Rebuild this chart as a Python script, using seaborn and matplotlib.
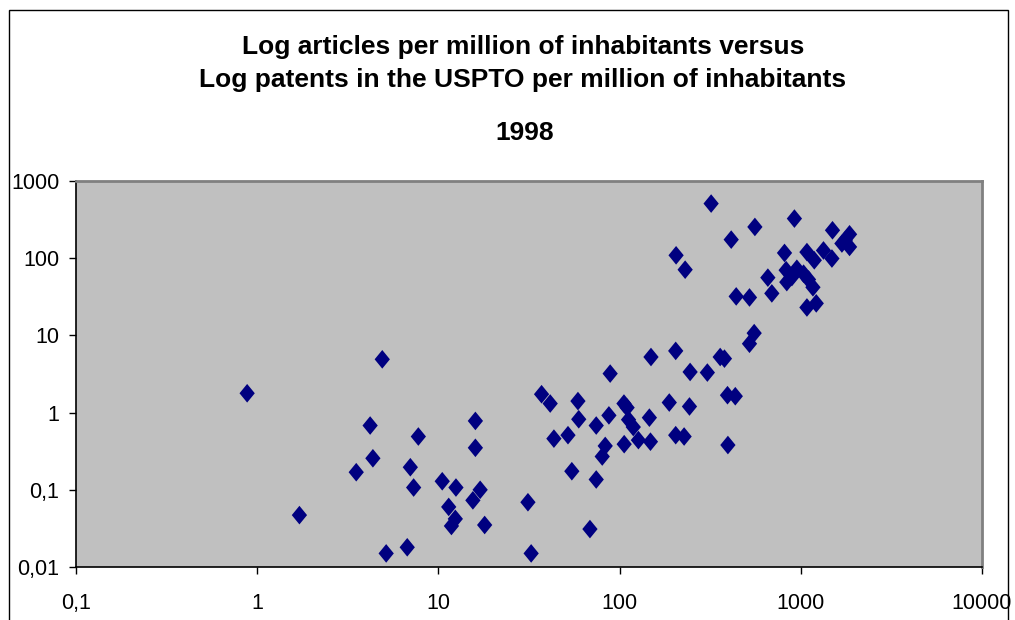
import numpy as np
import pandas as pd
import matplotlib
matplotlib.use('Agg')
import matplotlib.pyplot as plt
import matplotlib.ticker as mticker
from matplotlib.patches import Rectangle
import seaborn as sns

# Articles and patents per million inhabitants, 1998
articles = [0.88, 1.71, 3.52, 4.2, 4.35, 4.9, 5.15, 6.73, 7.0, 7.3, 7.75,
            10.5, 12.5, 11.4, 12.4, 11.8, 16.0, 16.0, 17.0, 15.5, 18.0,
            31.2, 32.5, 37.1, 41.4, 43.4, 51.9, 58.9, 59.5, 54.5, 68.6,
            74.3, 74.3, 88.7, 87.3, 83.3, 80.2, 105.7, 110, 112, 119, 106,
            127, 146, 148, 149, 188, 204, 204, 205, 320, 230, 413, 558, 922,
            440, 521, 658, 692, 813, 830, 837, 951, 1081, 1187, 1036, 1103,
            1167, 1081, 1217, 1334, 1485, 1496, 1686, 1858, 1858, 1758, 553,
            521, 359, 379, 245, 305, 243, 394, 435, 227, 396, 893]
patents = [1.78, 0.047, 0.169, 0.68, 0.256, 4.9, 0.015, 0.018, 0.196, 0.107, 0.49,
           0.129, 0.107, 0.060, 0.042, 0.034, 0.78, 0.35, 0.10, 0.073, 0.035,
           0.069, 0.015, 1.73, 1.31, 0.46, 0.51, 1.41, 0.82, 0.174, 0.031,
           0.68, 0.136, 3.2, 0.92, 0.37, 0.27, 1.31, 1.16, 0.81, 0.65, 0.39,
           0.44, 0.86, 0.42, 5.25, 1.35, 6.3, 0.51, 109, 510, 71, 174, 254, 326,
           32, 31, 56, 35, 117, 70, 49, 73, 120, 94, 63, 53,
           42, 23, 26, 126, 99, 230, 155, 204, 140, 171, 10.7,
           7.8, 5.25, 5.0, 3.36, 3.3, 1.2, 1.68, 1.63, 0.49, 0.38, 57]

x_ticks = [0.1, 1, 10, 100, 1000, 10000]
x_labels = ['0,1', '1', '10', '100', '1000', '10000']
y_ticks = [0.01, 0.1, 1, 10, 100, 1000]
y_labels = ['0,01', '0,1', '1', '10', '100', '1000']

df = pd.DataFrame({'articles': articles, 'patents': patents})

sns.set_theme(style='white')
plt.rcParams['font.family'] = ['Liberation Sans', 'DejaVu Sans']

fig = plt.figure(figsize=(10.15, 6.2), dpi=100)
ax = fig.add_axes([76 / 1015, 1 - 567 / 620, (982 - 76) / 1015, (567 - 181) / 620])
ax.set_facecolor('#C0C0C0')

diamond = [(0, 1), (0.82, 0), (0, -1), (-0.82, 0), (0, 1)]
sns.scatterplot(data=df, x='articles', y='patents', ax=ax, marker=diamond,
                s=180, color='#000080', edgecolor='none', linewidth=0,
                legend=False, zorder=3)

ax.set_xscale('log')
ax.set_yscale('log')
ax.set_xlim(0.1, 10000)
ax.set_ylim(0.01, 1000)
ax.xaxis.set_major_locator(mticker.FixedLocator(x_ticks))
ax.xaxis.set_major_formatter(mticker.FixedFormatter(x_labels))
ax.yaxis.set_major_locator(mticker.FixedLocator(y_ticks))
ax.yaxis.set_major_formatter(mticker.FixedFormatter(y_labels))
ax.xaxis.set_minor_locator(mticker.NullLocator())
ax.yaxis.set_minor_locator(mticker.NullLocator())
ax.tick_params(axis='both', which='major', direction='out', length=5, width=1,
               color='black', labelsize=15.5, labelcolor='black',
               bottom=True, left=True)
ax.tick_params(axis='x', pad=14)
ax.tick_params(axis='y', pad=7)
ax.set_xlabel('')
ax.set_ylabel('')

for side in ['top', 'right']:
    ax.spines[side].set_color('#808080')
    ax.spines[side].set_linewidth(2)
for side in ['left', 'bottom']:
    ax.spines[side].set_color('black')
    ax.spines[side].set_linewidth(1.2)

title_kw = dict(ha='center', va='center', fontsize=19, fontweight='bold', color='black')
fig.text(523 / 1015, 1 - 47 / 620, 'Log articles per million of inhabitants versus', **title_kw)
fig.text(523 / 1015, 1 - 80 / 620, 'Log patents in the USPTO per million of inhabitants', **title_kw)
fig.text(525 / 1015, 1 - 133 / 620, '1998', **title_kw)

# outer chart border
fig.patches.append(Rectangle((9 / 1015, -0.05), (1008 - 9) / 1015, 1.05 - 10 / 620,
                             transform=fig.transFigure, fill=False,
                             edgecolor='black', linewidth=1))

fig.savefig('out.png', dpi=100)
